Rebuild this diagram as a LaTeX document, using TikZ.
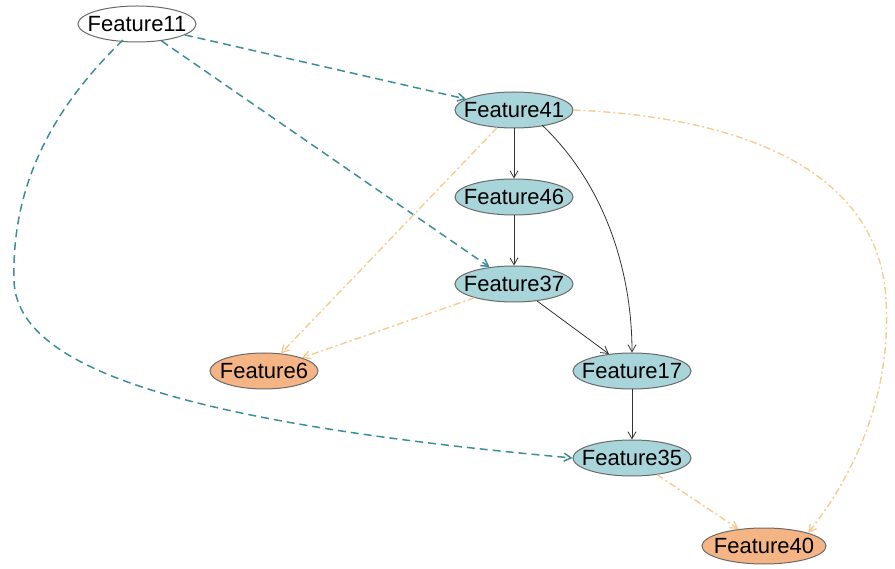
\documentclass[tikz,border=0pt]{standalone}
\usepackage{fontspec}
\setmainfont{Liberation Sans}
\usetikzlibrary{shapes.geometric,arrows.meta}
\definecolor{tealfill}{HTML}{A8D5DA}
\definecolor{orangefill}{HTML}{F4B483}
\definecolor{nodeline}{HTML}{6A6A6A}
\definecolor{tealedge}{HTML}{3E8E98}
\definecolor{orangeedge}{HTML}{F5CC92}
\definecolor{blackedge}{HTML}{333333}
\newcommand{\featlabel}[1]{\makebox[0pt]{#1}}
\tikzset{
  feat/.style={ellipse, draw=nodeline, line width=1pt, inner sep=0pt,
    minimum width=118pt, minimum height=36pt, font=\fontsize{22}{22}\selectfont},
  tealnode/.style={feat, fill=tealfill},
  orangenode/.style={feat, fill=orangefill},
  plainnode/.style={feat, fill=white},
  tip/.style={-{Straight Barb[length=7pt,width=8pt]}},
  tealarrow/.style={tip, draw=tealedge, line width=1.5pt, dash pattern=on 8pt off 5pt},
  orangearrow/.style={tip, draw=orangeedge, line width=1.4pt, dash pattern=on 7pt off 3pt on 2pt off 3pt},
  solidarrow/.style={tip, draw=blackedge, line width=0.8pt}
}
\begin{document}
\begin{tikzpicture}[x=1pt,y=-1pt]
\useasboundingbox (0,0) rectangle (895,569);
% nodes
\node[plainnode]  (f11) at (137,24)  {\featlabel{Feature11}};
\node[tealnode]   (f41) at (514,110) {\featlabel{Feature41}};
\node[tealnode]   (f46) at (514,197) {\featlabel{Feature46}};
\node[tealnode]   (f37) at (514,284) {\featlabel{Feature37}};
\node[orangenode, minimum width=108pt] (f6) at (264,371) {\featlabel{Feature6}};
\node[tealnode]   (f17) at (632,371) {\featlabel{Feature17}};
\node[tealnode]   (f35) at (632,458) {\featlabel{Feature35}};
\node[orangenode, minimum width=124pt] (f40) at (764,546) {\featlabel{Feature40}};
% dashed links from Feature11
\draw[tealarrow] (f11) -- (f41);
\draw[tealarrow] (f11) -- (f37);
\draw[tealarrow] (f11.south west) ++(28,3) .. controls (40,120) and (12,200) .. (14,280)
  .. controls (16,360) and (150,420) .. (f35.west);
% solid links
\draw[solidarrow] (f41) -- (f46);
\draw[solidarrow] (f46) -- (f37);
\draw[solidarrow] (f37) -- (f17);
\draw[solidarrow] (f17) -- (f35);
\draw[solidarrow] (f41.south east) ++(-14,2) .. controls (610,190) and (632,280) .. (f17.north);
% dash-dot links
\draw[orangearrow] (f41) -- (f6);
\draw[orangearrow] (f37) -- (f6);
\draw[orangearrow] (f35) -- (f40);
\draw[orangearrow] (f41.east) .. controls (760,118) and (880,180) .. (886,300)
  .. controls (892,400) and (850,480) .. (f40.north east);
\end{tikzpicture}
\end{document}
